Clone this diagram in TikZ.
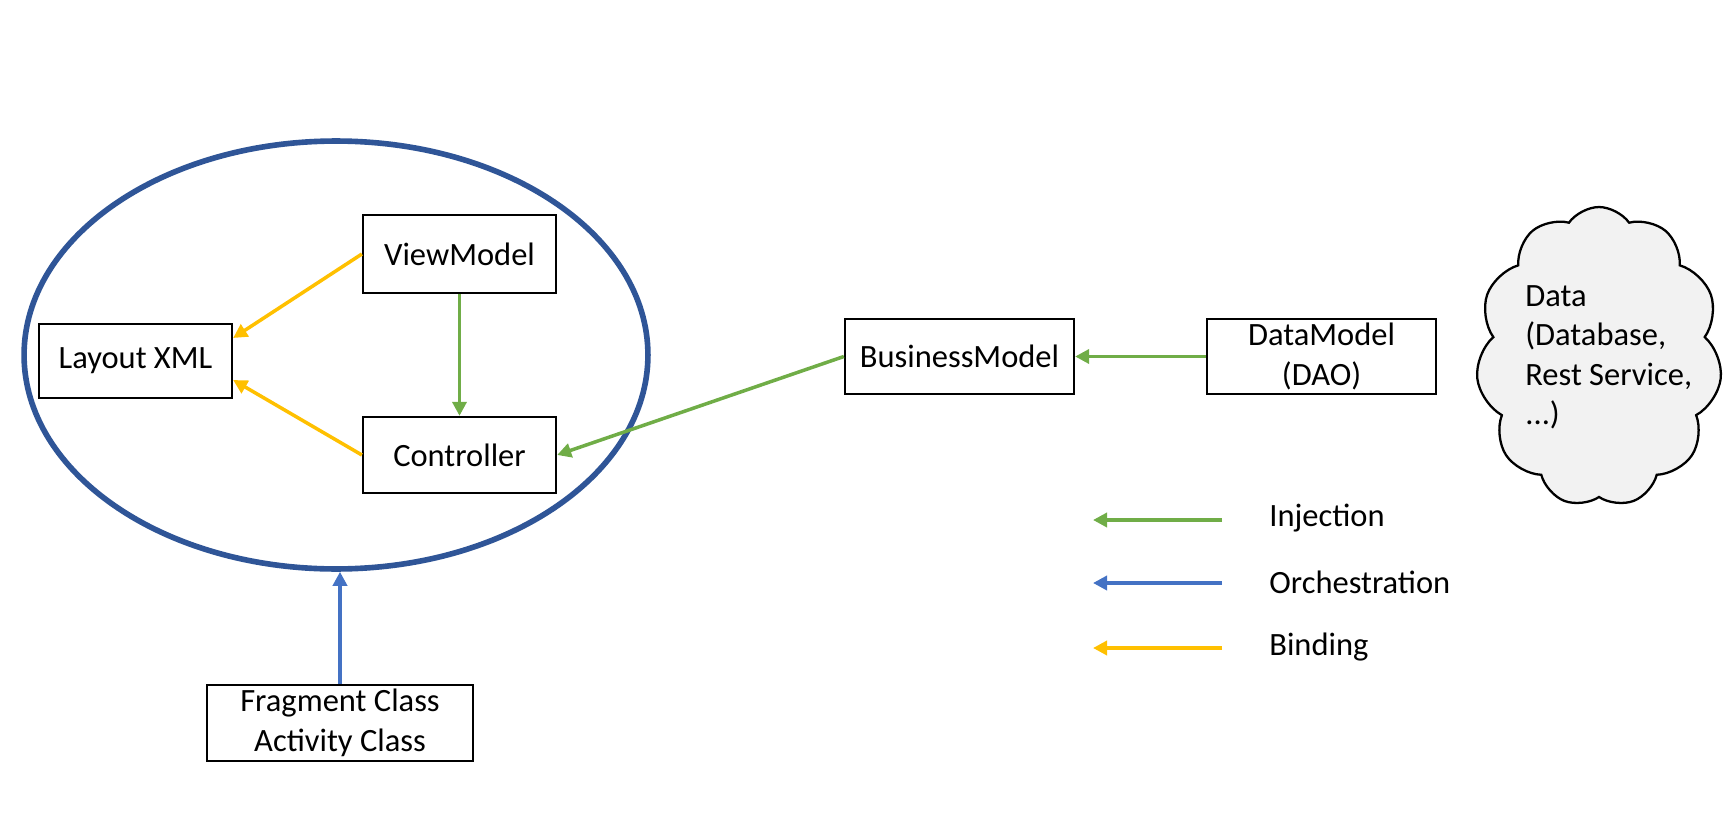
\documentclass[tikz,border=0pt]{standalone}
\usepackage{fontspec}
\setmainfont{Carlito}
\usetikzlibrary{arrows.meta,shapes.geometric,shapes.symbols,calc}
\definecolor{ringblue}{HTML}{2F5597}
\definecolor{injgreen}{HTML}{70AD47}
\definecolor{orchblue}{HTML}{4472C4}
\definecolor{bindyellow}{HTML}{FFC000}
\definecolor{cloudfill}{HTML}{F2F2F2}
\begin{document}
\begin{tikzpicture}[x=0.02cm,y=-0.02cm,
  every node/.style={font=\fontsize{18.5}{22.5}\selectfont},
  box/.style={draw=black,line width=1.3pt,inner sep=0pt,align=center},
  link/.style={line width=2pt,-{Triangle[length=8pt,width=8pt]}},
  inj/.style={link,draw=injgreen,fill=injgreen},
  orch/.style={link,draw=orchblue,fill=orchblue},
  bind/.style={link,draw=bindyellow,fill=bindyellow}]
\useasboundingbox (0,0) rectangle (1736,838);

% the Android view layer
\node[ellipse,draw=ringblue,line width=3.2pt,minimum width=12.48cm,minimum height=8.56cm,inner sep=0pt] (ring) at (336,355) {};

\node[box,minimum width=3.86cm,minimum height=1.48cm] (layout) at (135.5,361) {Layout XML};
\node[box,minimum width=3.86cm,minimum height=1.56cm] (viewmodel) at (459.5,254) {ViewModel};
\node[box,minimum width=3.86cm,minimum height=1.52cm] (controller) at (459.5,455) {Controller};
\node[box,minimum width=4.58cm,minimum height=1.5cm] (business) at (959.5,356.5) {BusinessModel};
\node[box,minimum width=4.58cm,minimum height=1.5cm] (datamodel) at (1321.5,356.5) {DataModel\\(DAO)};
\node[box,minimum width=5.32cm,minimum height=1.52cm] (fragment) at (340,723) {Fragment Class\\Activity Class};

% data sources
\node[cloud,cloud puffs=11,cloud puff arc=110,aspect=0.82,draw=black,line width=1.3pt,fill=cloudfill,minimum width=4.92cm,minimum height=6cm,inner sep=0pt] (data) at (1599,357) {};
\node[anchor=north west,align=left,inner sep=0pt] (datatext) at (1525,285) {Data\\(Database,\\Rest Service,\\...)};

% connectors
\draw[bind] (viewmodel.west) -- ($(layout.east)+(0,-23)$);
\draw[bind] (controller.west) -- ($(layout.east)+(0,19)$);
\draw[inj] (viewmodel.south) -- (controller.north);
\draw[inj] (business.west) -- (controller.east);
\draw[inj] (datamodel.west) -- (business.east);
\draw[orch] (fragment.north) -- (fragment.north |- ring.south);

% legend
\coordinate (l1s) at (1222,520); \coordinate (l1e) at (1093,520);
\coordinate (l2s) at (1222,583); \coordinate (l2e) at (1093,583);
\coordinate (l3s) at (1222,648); \coordinate (l3e) at (1093,648);
\draw[inj] (l1s) -- (l1e);
\draw[orch] (l2s) -- (l2e);
\draw[bind] (l3s) -- (l3e);
\node[anchor=west,inner sep=0pt] (linj) at (1269,518) {Injection};
\node[anchor=west,inner sep=0pt] (lorch) at (1269,582) {Orchestration};
\node[anchor=west,inner sep=0pt] (lbind) at (1269,647) {Binding};
\end{tikzpicture}
\end{document}
